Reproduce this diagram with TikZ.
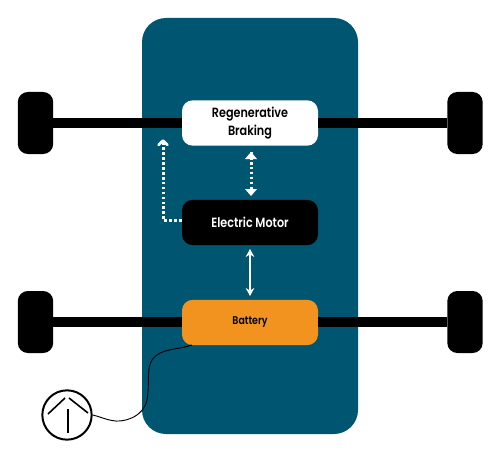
\documentclass[tikz,border=0pt]{standalone}
\usepackage{fontspec}
\setmainfont{Poppins}[BoldFont={Poppins SemiBold},BoldFeatures={FakeStretch=0.84}]
\usetikzlibrary{arrows.meta}
\definecolor{panelblue}{HTML}{005670}
\definecolor{battorange}{HTML}{F29320}
\tikzset{
  x=0.75pt,y=-0.75pt,
  panel/.style={fill=panelblue,rounded corners=18pt,minimum width=162pt,minimum height=312pt,inner sep=0pt},
  wheel/.style={fill=black,rounded corners=7.5pt,minimum width=26.5pt,minimum height=46.5pt,inner sep=0pt},
  unit/.style={rounded corners=8pt,minimum width=102pt,minimum height=34pt,inner sep=0pt,align=center,font=\fontsize{10pt}{14pt}\selectfont\bfseries},
  axle/.style={line width=7.5pt,black},
  dotline/.style={white,line width=2.25pt,dash pattern=on 2pt off 1.7pt},
  thinarrow/.style={white,line width=1.5pt,{Stealth[length=6pt,width=6.5pt]}-{Stealth[length=6pt,width=6.5pt]}},
}
\begin{document}
\begin{tikzpicture}
\useasboundingbox (0,0) rectangle (500,460);
\node[panel] (body) at (250,226) {};
\node[wheel] (wTL) at (35.5,123) {};
\node[wheel] (wTR) at (465,123) {};
\node[wheel] (wBL) at (35.5,322) {};
\node[wheel] (wBR) at (465,322) {};
\node[unit,fill=white,text=black] (regen) at (250,123) {Regenerative\\Braking};
\node[unit,fill=black,text=white] (motor) at (250,222.5) {Electric Motor};
\node[unit,fill=battorange,text=black,font=\fontsize{8.4pt}{10pt}\selectfont\bfseries] (batt) at (250,322.5) {Battery};
\draw[axle] (wTL.east) -- (wTL.east -| regen.west);
\draw[axle] (regen.east |- wTR.west) -- (wTR.west);
\draw[axle] (wBL.east) -- (wBL.east -| batt.west);
\draw[axle] (batt.east |- wBR.west) -- (wBR.west);
\coordinate (dA) at (251,152);
\coordinate (dB) at (251,196);
\draw[dotline] (dA) -- (dB);
\fill[white] (dA) ++(-6,7) -- ++(6,-7) -- ++(6,7) -- cycle;
\fill[white] (dB) ++(-6,-7) -- ++(6,7) -- ++(6,-7) -- cycle;
\coordinate (corner) at (163,220);
\coordinate (dC) at (163,142);
\draw[dotline] (motor.west |- corner) -- (corner) -- (dC);
\draw[white,line width=2pt,line cap=round,line join=round] (158.5,145) -- (163,140.5) -- (167.5,145);
\coordinate (mB) at (250,249);
\coordinate (bT) at (250,296);
\draw[thinarrow] (mB) -- (bT);
\node[circle,draw=black,line width=1.5pt,fill=white,minimum size=37pt,inner sep=0pt] (plug) at (67,415) {};
\draw[black,line width=1.2pt] (48,414) -- (65,398);
\draw[black,line width=1.2pt] (69,398) -- (88,413);
\draw[black,line width=1.2pt] (68,409) -- (68,433);
\coordinate (battTap) at (192,345);
\draw[black,line width=0.7pt] (battTap) .. controls (178,350) and (160,348) .. (152,360)
  .. controls (146,370) and (150,385) .. (147,400)
  .. controls (143,418) and (122,423) .. (112,420.5)
  .. controls (104,419) and (98,416) .. (plug.east);
\end{tikzpicture}
\end{document}
